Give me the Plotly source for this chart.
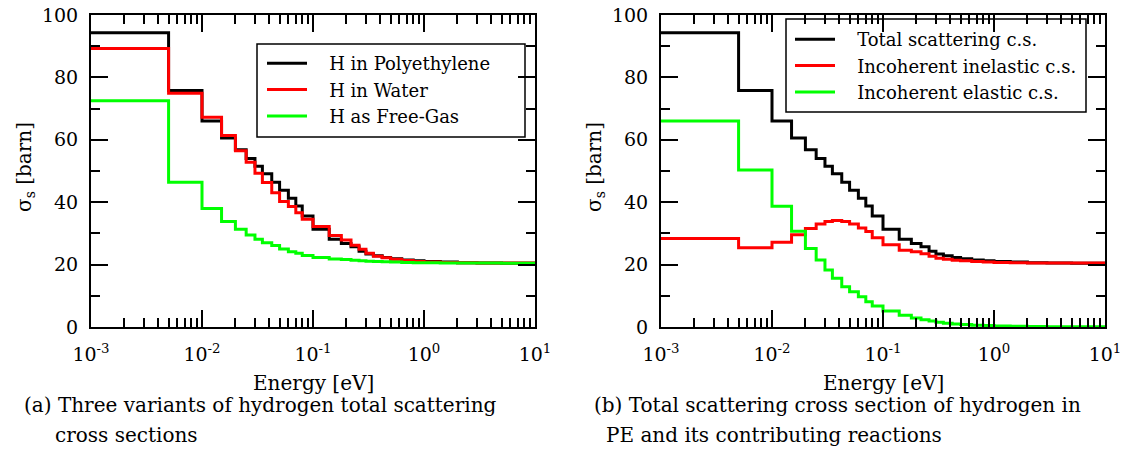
import plotly.graph_objects as go

W, H = 1124, 463

# Energy group boundaries [eV]
energy_edges = [0.001, 0.005, 0.01, 0.015, 0.02, 0.025, 0.03, 0.035, 0.0425, 0.05,
                0.06, 0.07, 0.08, 0.1, 0.14, 0.18, 0.22, 0.26, 0.3, 0.35,
                0.42, 0.5, 0.63, 0.8, 1.0, 1.4, 2.0, 3.0, 5.0, 10.0]

# (a) group cross sections [barn]
h_polyethylene = [94.3, 75.8, 66.0, 60.6, 56.8, 54.0, 51.5, 49.1, 46.4, 43.8,
                  41.3, 38.8, 35.6, 31.3, 28.1, 26.8, 25.7, 24.3, 23.4, 22.8,
                  22.3, 21.9, 21.5, 21.2, 21.0, 20.8, 20.6, 20.5, 20.4]
h_water = [89.3, 74.9, 67.2, 61.4, 56.5, 52.8, 49.3, 46.3, 43.0, 40.2,
           38.6, 36.6, 34.5, 32.2, 29.3, 27.9, 26.2, 24.9, 23.6, 22.7,
           22.2, 21.7, 21.3, 21.0, 20.8, 20.7, 20.6, 20.5, 20.5]
h_free_gas = [72.5, 46.4, 38.0, 33.8, 31.3, 29.5, 28.1, 27.0, 26.1, 25.0,
              24.1, 23.6, 22.9, 22.3, 21.8, 21.6, 21.4, 21.2, 21.1, 21.0,
              20.9, 20.8, 20.7, 20.6, 20.6, 20.5, 20.5, 20.5, 20.4]

# (b) hydrogen in PE: total and contributions [barn]
total_scattering = h_polyethylene
incoherent_inelastic = [28.4, 25.4, 27.2, 29.6, 31.6, 33.0, 33.8, 34.1, 33.8, 33.0,
                        31.7, 30.6, 28.6, 26.4, 24.6, 24.1, 23.5, 22.7, 22.0, 21.7,
                        21.4, 21.2, 21.0, 20.8, 20.7, 20.6, 20.5, 20.5, 20.5]
incoherent_elastic = [66.0, 50.3, 38.7, 30.7, 25.2, 21.5, 18.3, 15.6, 12.9, 11.3,
                      9.7, 8.1, 6.7, 5.1, 3.8, 2.9, 2.3, 1.9, 1.5, 1.2,
                      1.0, 0.8, 0.6, 0.45, 0.35, 0.25, 0.18, 0.12, 0.08]

x_tick_vals = [0.001, 0.01, 0.1, 1, 10]
x_tick_text = ["10<sup>-3</sup>", "10<sup>-2</sup>", "10<sup>-1</sup>", "10<sup>0</sup>", "10<sup>1</sup>"]

FONT = "DejaVu Serif"
BLACK, RED, GREEN = "#000000", "#ff0000", "#00ff00"
NB = "\u00a0\u00a0\u00a0"

fig = go.Figure()


def stair(values, name, color, xa, ya, legend):
    fig.add_trace(go.Scatter(
        x=energy_edges, y=list(values) + [values[-1]], mode="lines",
        line=dict(color=color, width=3, shape="hv"),
        name=NB + name, xaxis=xa, yaxis=ya, legend=legend))


stair(h_polyethylene, "H in Polyethylene", BLACK, "x", "y", "legend")
stair(h_water, "H in Water", RED, "x", "y", "legend")
stair(h_free_gas, "H as Free-Gas", GREEN, "x", "y", "legend")
stair(total_scattering, "Total scattering c.s.", BLACK, "x2", "y2", "legend2")
stair(incoherent_inelastic, "Incoherent inelastic c.s.", RED, "x2", "y2", "legend2")
stair(incoherent_elastic, "Incoherent elastic c.s.", GREEN, "x2", "y2", "legend2")

minor_x = [m * 10.0 ** e for e in range(-3, 1) for m in range(2, 10)]

xcommon = dict(type="log", range=[-3, 1], tickvals=x_tick_vals, ticktext=x_tick_text,
               ticks="inside", ticklen=17, tickwidth=2, tickcolor="black",
               showline=True, linewidth=2, linecolor="black", mirror="ticks",
               showgrid=False, zeroline=False, ticklabelstandoff=9, automargin=False,
               tickfont=dict(family=FONT, size=19, color="black"),
               minor=dict(tickvals=minor_x, ticks="inside", ticklen=9, tickwidth=2,
                          tickcolor="black", showgrid=False))
ycommon = dict(range=[0, 100], dtick=20, tick0=0,
               ticks="inside", ticklen=17, tickwidth=2, tickcolor="black",
               showline=True, linewidth=2, linecolor="black", mirror="ticks",
               showgrid=False, zeroline=False, ticklabelstandoff=7, automargin=False,
               tickfont=dict(family=FONT, size=19, color="black"),
               minor=dict(dtick=10, ticks="inside", ticklen=9, tickwidth=2,
                          tickcolor="black", showgrid=False))

ytop, ybot = 1 - 15 / H, 1 - 327 / H
fig.update_layout(
    width=W, height=H, margin=dict(l=0, r=0, t=0, b=0, autoexpand=False),
    paper_bgcolor="white", plot_bgcolor="white",
    font=dict(family=FONT, color="black"),
    xaxis=dict(domain=[91 / W, 535 / W], anchor="y", **xcommon),
    yaxis=dict(domain=[ybot, ytop], anchor="x", **ycommon),
    xaxis2=dict(domain=[661 / W, 1105 / W], anchor="y2", **xcommon),
    yaxis2=dict(domain=[ybot, ytop], anchor="x2", **ycommon),
    legend=dict(x=262 / W, y=1 - 45 / H, xanchor="left", yanchor="top",
                bgcolor="rgba(0,0,0,0)", borderwidth=0, itemwidth=40,
                font=dict(family=FONT, size=18, color="black")),
    legend2=dict(x=790 / W, y=1 - 21 / H, xanchor="left", yanchor="top",
                 bgcolor="rgba(0,0,0,0)", borderwidth=0, itemwidth=40,
                 font=dict(family=FONT, size=18, color="black")),
    showlegend=True,
)

# legend frames
fig.add_shape(type="rect", xref="paper", yref="paper", x0=257 / W, x1=525 / W,
              y0=1 - 137 / H, y1=1 - 44 / H, line=dict(color="black", width=1.5),
              fillcolor="white", layer="below")
fig.add_shape(type="rect", xref="paper", yref="paper", x0=786 / W, x1=1086 / W,
              y0=1 - 112 / H, y1=1 - 19 / H, line=dict(color="black", width=1.5),
              fillcolor="white", layer="below")

ann_font = dict(family=FONT, size=20, color="black")
for cx, cy in [(313, 383), (883, 383)]:
    fig.add_annotation(text="Energy [eV]", x=cx / W, y=1 - cy / H, xref="paper", yref="paper",
                       showarrow=False, xanchor="center", yanchor="middle", font=ann_font)
for cx in [25, 595]:
    fig.add_annotation(text="σ<sub>s</sub> [barn]", x=cx / W, y=1 - 167 / H, xref="paper",
                       yref="paper", showarrow=False, textangle=-90, xanchor="center",
                       yanchor="middle", font=dict(family=FONT, size=20, color="black"))

cap_font = dict(family=FONT, size=20, color="black")
captions = [
    ("(a) Three variants of hydrogen total scattering", 22, 405),
    ("cross sections", 53, 435),
    ("(b) Total scattering cross section of hydrogen in", 592, 405),
    ("PE and its contributing reactions", 604, 435),
]
for txt, cx, cy in captions:
    fig.add_annotation(text=txt, x=cx / W, y=1 - cy / H, xref="paper", yref="paper",
                       showarrow=False, xanchor="left", yanchor="middle", font=cap_font)

fig.write_html("out.html")
